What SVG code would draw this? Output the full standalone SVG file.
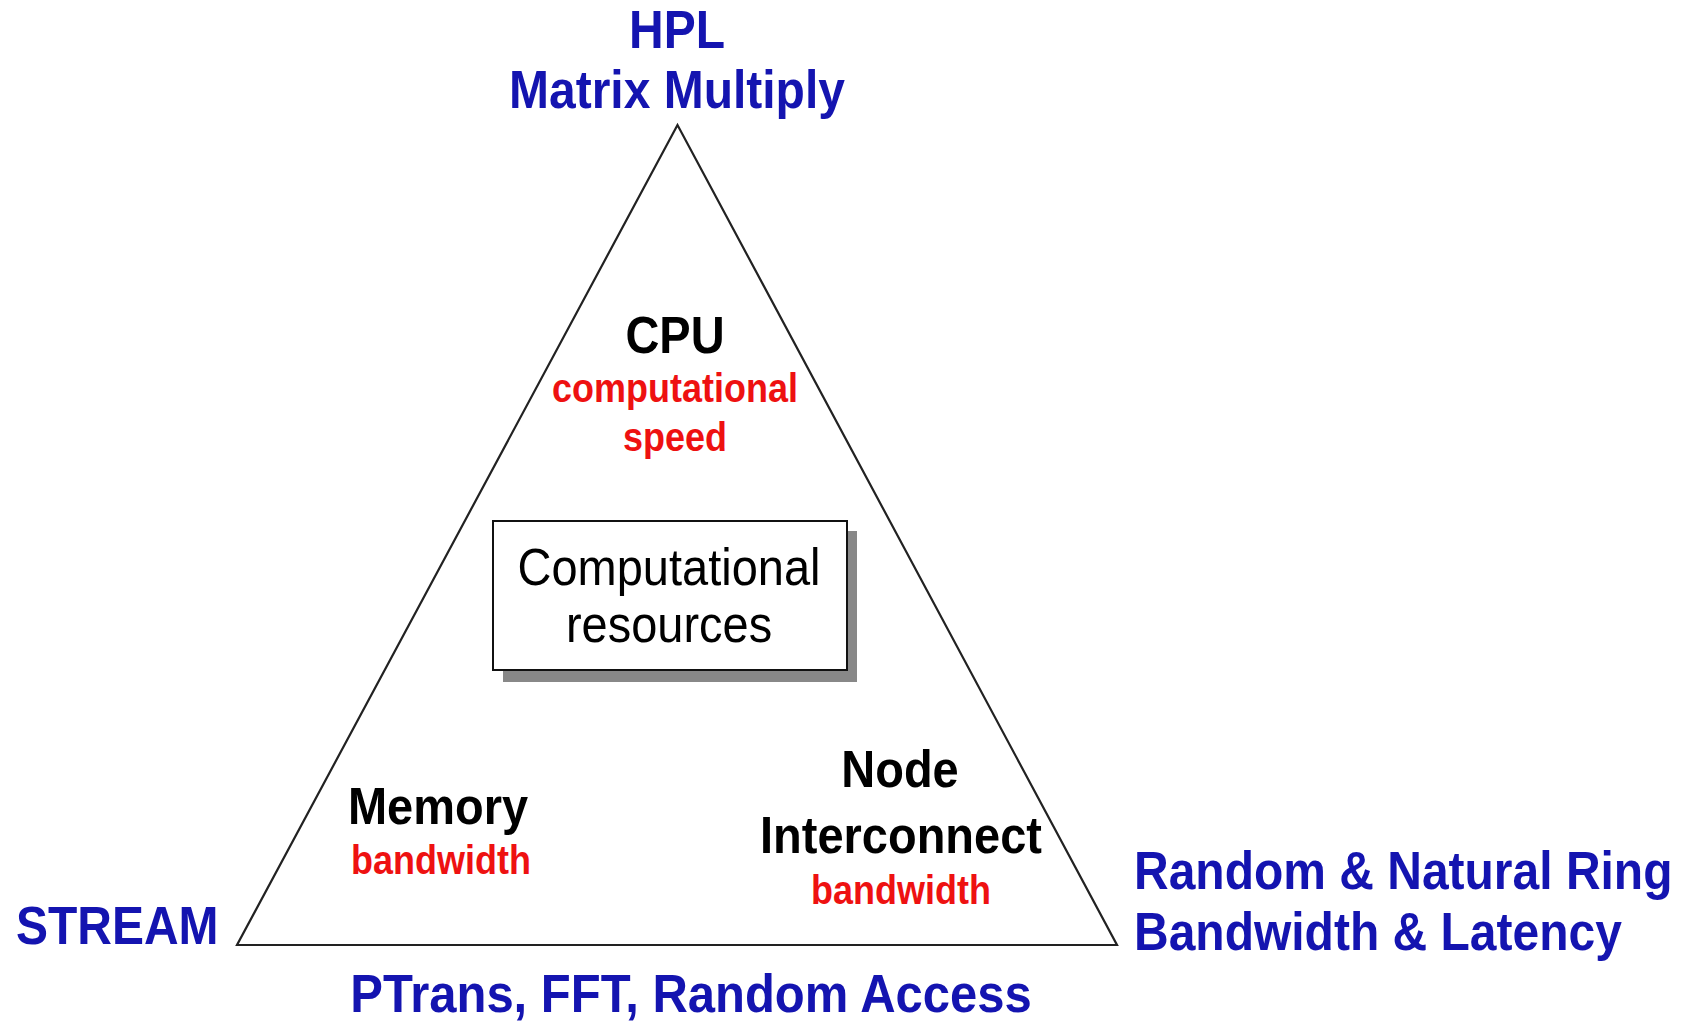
<svg xmlns="http://www.w3.org/2000/svg" width="1682" height="1025" viewBox="0 0 1682 1025">
<style>
text{font-family:"Liberation Sans",Arial,sans-serif;}
.b{font-weight:bold;fill:#1414b0;font-size:48px;}
.c{text-anchor:middle;}
.k{font-weight:bold;fill:#000;font-size:47px;text-anchor:middle;}
.r{font-weight:bold;fill:#ee1111;font-size:36px;text-anchor:middle;}
.n{fill:#000;font-size:47px;text-anchor:middle;}
</style>
<rect width="1682" height="1025" fill="#fff"/>
<g id="connectors">
<polygon points="677.5,125 237,945 1117,945" fill="none" stroke="#222" stroke-width="2.2" stroke-linejoin="miter"/>
</g>
<g id="hpl">
<text class="b c" transform="translate(677,48) scale(1,1.1)">HPL</text>
<text class="b c" transform="translate(677,108) scale(1,1.1)">Matrix Multiply</text>
</g>
<g id="stream">
<text class="b" transform="translate(16,944) scale(1,1.1)">STREAM</text>
</g>
<g id="ring">
<text class="b" transform="translate(1134,889) scale(1,1.1)">Random &amp; Natural Ring</text>
<text class="b" transform="translate(1134,950) scale(1,1.1)">Bandwidth &amp; Latency</text>
</g>
<g id="ptrans">
<text class="b c" style="font-size:49px" transform="translate(691,1012) scale(1,1.08)">PTrans, FFT, Random Access</text>
</g>
<g id="cpu">
<text class="k" transform="translate(675,353) scale(1,1.12)">CPU</text>
<text class="r" transform="translate(675,402) scale(1,1.12)">computational</text>
<text class="r" transform="translate(675,451) scale(1,1.12)">speed</text>
</g>
<g id="resources">
<rect x="503" y="531" width="354" height="151" fill="#888"/>
<rect x="493" y="521" width="354" height="149" fill="#fff" stroke="#111" stroke-width="2"/>
<text class="n" transform="translate(669,585) scale(1,1.12)">Computational</text>
<text class="n" transform="translate(669,642) scale(1,1.12)">resources</text>
</g>
<g id="memory">
<text class="k" transform="translate(438,824) scale(1,1.12)">Memory</text>
<text class="r" transform="translate(441,874) scale(1,1.12)">bandwidth</text>
</g>
<g id="interconnect">
<text class="k" transform="translate(900,787) scale(1,1.12)">Node</text>
<text class="k" transform="translate(901,853) scale(1,1.12)">Interconnect</text>
<text class="r" transform="translate(901,904) scale(1,1.12)">bandwidth</text>
</g>
</svg>
